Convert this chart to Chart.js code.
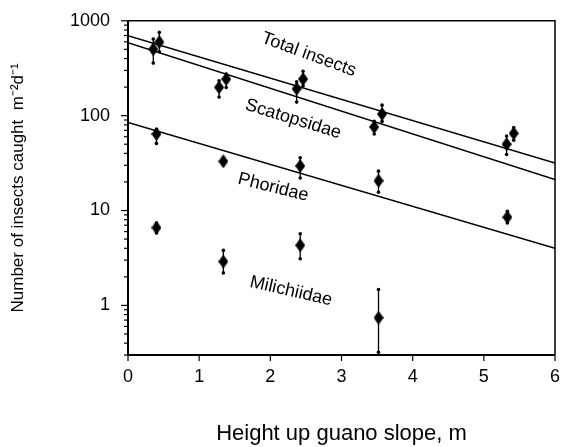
<!DOCTYPE html>
<html>
<head>
<meta charset="UTF-8">
<title>Insects caught vs height up guano slope</title>
<script src="https://cdn.jsdelivr.net/npm/chart.js"></script>
<style>
    html, body { margin: 0; padding: 0; background: #fff; }
    #wrap { width: 566px; height: 447px; }
</style>
</head>
<body>
<div id="wrap"><canvas id="chart" width="566" height="447"></canvas></div>
<script>
// data (height in m, catch in m^-2 d^-1)
const totalX = [0.44, 1.38, 2.46, 3.57, 5.42];
const totalY = [597, 243, 243, 104, 65];
const totalLo = [471, 198, 207, 87, 55];
const totalHi = [755, 275, 294, 129, 75];

const scatX = [0.355, 1.28, 2.37, 3.46, 5.32];
const scatY = [502, 199, 192, 76, 50];
const scatLo = [358, 157, 139, 64, 39];
const scatHi = [644, 233, 227, 87, 61];

const phorX = [0.40, 1.34, 2.42, 3.52, 5.33];
const phorY = [64, 33, 29.5, 20.6, 8.5];
const phorLo = [51, 31, 22, 15.6, 7.4];
const phorHi = [72, 35, 36, 26, 9.8];

const milX = [0.40, 1.34, 2.42, 3.52];
const milY = [6.6, 2.9, 4.3, 0.74];
const milLo = [5.8, 2.2, 3.1, 0.32];
const milHi = [7.4, 3.8, 5.7, 1.47];

// fitted regression lines, ends at 0 and 6 m
const fitX = [0, 6];
const totalFit = [698, 31.6];
const scatFit = [586, 21.2];
const phorFit = [85, 4.0];

const yTickLabels = [1, 10, 100, 1000];
const xTickLabels = [0, 1, 2, 3, 4, 5, 6];

const FONT = "'Liberation Sans', Arial, sans-serif";

function pts(xs, ys) { return xs.map((x, i) => ({ x: x, y: ys[i] })); }

// tall diamond marker
const diamond = document.createElement("canvas");
diamond.width = 10; diamond.height = 14;
(function () {
    const c = diamond.getContext("2d");
    c.fillStyle = "#000";
    c.beginPath();
    c.moveTo(5, 0); c.lineTo(10, 7); c.lineTo(5, 14); c.lineTo(0, 7);
    c.closePath(); c.fill();
})();

const groups = [
    { x: totalX, lo: totalLo, hi: totalHi },
    { x: scatX, lo: scatLo, hi: scatHi },
    { x: phorX, lo: phorLo, hi: phorHi },
    { x: milX, lo: milLo, hi: milHi }
];

const curveLabels = [
    { text: "Total insects", x: 2.54, y: 440, angle: 20 },
    { text: "Scatopsidae", x: 2.32, y: 92, angle: 17 },
    { text: "Phoridae", x: 2.04, y: 17.5, angle: 14 },
    { text: "Milichiidae", x: 2.29, y: 1.41, angle: 13 }
];

const errorBars = {
    id: "errorBars",
    beforeDatasetsDraw(chart) {
        const ctx = chart.ctx, xs = chart.scales.x, ys = chart.scales.y;
        ctx.save();
        ctx.strokeStyle = "#000";
        ctx.fillStyle = "#000";
        ctx.lineWidth = 1.3;
        groups.forEach(g => {
            g.x.forEach((x, i) => {
                const px = xs.getPixelForValue(x);
                const top = ys.getPixelForValue(g.hi[i]);
                const bot = ys.getPixelForValue(g.lo[i]);
                ctx.beginPath();
                ctx.moveTo(px, top); ctx.lineTo(px, bot);
                ctx.stroke();
                [top, bot].forEach(p => {
                    if (p < chart.chartArea.bottom - 1) {
                        ctx.beginPath();
                        ctx.arc(px, p, 1.8, 0, Math.PI * 2);
                        ctx.fill();
                    }
                });
            });
        });
        ctx.restore();
    }
};

const frame = {
    id: "frame",
    afterDraw(chart) {
        const ctx = chart.ctx, a = chart.chartArea, xs = chart.scales.x, ys = chart.scales.y;
        ctx.save();
        ctx.strokeStyle = "#000";
        // box
        ctx.lineWidth = 1.5;
        ctx.beginPath();
        ctx.moveTo(a.left, a.top); ctx.lineTo(a.right, a.top); ctx.lineTo(a.right, a.bottom);
        ctx.stroke();
        ctx.lineWidth = 2;
        ctx.beginPath();
        ctx.moveTo(a.left, a.top); ctx.lineTo(a.left, a.bottom); ctx.lineTo(a.right, a.bottom);
        ctx.stroke();
        // log ticks on y
        ctx.lineWidth = 1.2;
        for (let d = -1; d <= 2; d++) {
            for (let m = 1; m <= 9; m++) {
                const v = m * Math.pow(10, d);
                if (v < ys.min || v > ys.max) continue;
                const py = ys.getPixelForValue(v);
                const len = m === 1 ? 7 : 4;
                ctx.beginPath();
                ctx.moveTo(a.left - len, py); ctx.lineTo(a.left, py);
                ctx.stroke();
            }
        }
        const pTop = ys.getPixelForValue(1000);
        ctx.beginPath(); ctx.moveTo(a.left - 7, pTop); ctx.lineTo(a.left, pTop); ctx.stroke();
        // x ticks
        xTickLabels.forEach(v => {
            const px = xs.getPixelForValue(v);
            ctx.beginPath();
            ctx.moveTo(px, a.bottom); ctx.lineTo(px, a.bottom + 6);
            ctx.stroke();
        });
        // curve labels
        ctx.fillStyle = "#000";
        ctx.font = "18px " + FONT;
        ctx.textAlign = "center";
        ctx.textBaseline = "middle";
        curveLabels.forEach(l => {
            ctx.save();
            ctx.translate(xs.getPixelForValue(l.x), ys.getPixelForValue(l.y));
            ctx.rotate(l.angle * Math.PI / 180);
            ctx.fillText(l.text, 0, 0);
            ctx.restore();
        });
        ctx.restore();
    }
};

const lineStyle = { type: "line", showLine: true, pointRadius: 0, borderColor: "#000", borderWidth: 1.5, fill: false };
const pointStyle = { type: "scatter", pointStyle: diamond, pointRadius: 7, showLine: false };

new Chart(document.getElementById("chart").getContext("2d"), {
    data: {
        datasets: [
            Object.assign({ label: "Total insects fit", data: pts(fitX, totalFit) }, lineStyle),
            Object.assign({ label: "Scatopsidae fit", data: pts(fitX, scatFit) }, lineStyle),
            Object.assign({ label: "Phoridae fit", data: pts(fitX, phorFit) }, lineStyle),
            Object.assign({ label: "Total insects", data: pts(totalX, totalY) }, pointStyle),
            Object.assign({ label: "Scatopsidae", data: pts(scatX, scatY) }, pointStyle),
            Object.assign({ label: "Phoridae", data: pts(phorX, phorY) }, pointStyle),
            Object.assign({ label: "Milichiidae", data: pts(milX, milY) }, pointStyle)
        ]
    },
    options: {
        responsive: false,
        animation: false,
        events: [],
        layout: { padding: { top: 13, right: 11, left: 0, bottom: 0 } },
        plugins: { legend: { display: false }, tooltip: { enabled: false } },
        scales: {
            x: {
                type: "linear",
                min: 0, max: 6,
                afterFit(s) { s.height = 92; },
                afterBuildTicks(s) { s.ticks = xTickLabels.map(v => ({ value: v })); },
                grid: { display: false },
                border: { display: false },
                ticks: { color: "#000", font: { size: 18, family: FONT }, padding: 3 },
                title: {
                    display: true, text: "Height up guano slope, m", color: "#000",
                    font: { size: 22, family: FONT }, padding: { bottom: 0 }
                }
            },
            y: {
                type: "logarithmic",
                min: 0.32, max: 1000,
                afterFit(s) { s.width = 128; },
                afterBuildTicks(s) { s.ticks = yTickLabels.map(v => ({ value: v })); },
                grid: { display: false },
                border: { display: false },
                ticks: {
                    color: "#000", font: { size: 18, family: FONT }, padding: 10,
                    callback: v => String(v)
                },
                title: {
                    display: true, text: "Number of insects caught  m\u207B\u00B2d\u207B\u00B9", color: "#000",
                    font: { size: 17, family: FONT }, padding: { top: 8 }
                }
            }
        }
    },
    plugins: [errorBars, frame]
});
</script>
</body>
</html>
